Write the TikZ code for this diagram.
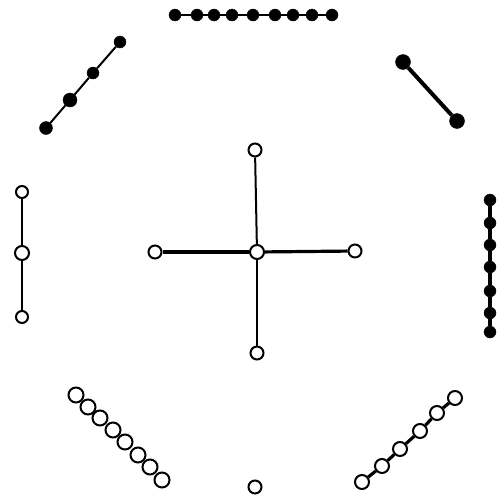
\documentclass[tikz,border=0pt]{standalone}
\begin{document}
\begin{tikzpicture}[x=1pt,y=-1pt,
  fdot/.style={circle,fill=black,draw=black,inner sep=0pt,minimum size=#1},
  fdot/.default=12pt,
  odot/.style={circle,fill=white,draw=black,line width=2pt,inner sep=0pt,minimum size=#1},
  odot/.default=13pt,
  link/.style={line width=2pt},
  thick link/.style={line width=3.2pt}]
\useasboundingbox (0,0) rectangle (504,501);
% top row
\foreach \i/\x in {1/175,2/197,3/214,4/232,5/253,6/275,7/293,8/312,9/332}
  \node[fdot=12pt] (t\i) at (\x,15) {};
\draw[link] (t1) -- (t2) -- (t3) -- (t4) -- (t5) -- (t6) -- (t7) -- (t8) -- (t9);
% top-left
\node[fdot=12pt] (a1) at (120,42) {};
\node[fdot=12pt] (a2) at (93,73) {};
\node[fdot=14pt] (a3) at (70,100) {};
\node[fdot=13pt] (a4) at (46,128) {};
\draw[link] (a1) -- (a2) -- (a3) -- (a4);
% top-right
\node[fdot=15pt] (b1) at (403,62) {};
\node[fdot=15pt] (b2) at (457,121) {};
\draw[line width=4pt] (b1) -- (b2);
% right vertical
\foreach \i/\y in {1/200,2/223,3/245,4/267,5/291,6/313,7/332}
  \node[fdot=12pt] (r\i) at (490,\y) {};
\draw[thick link] (r1) -- (r2) -- (r3) -- (r4) -- (r5) -- (r6) -- (r7);
% left vertical
\node[odot=12pt] (l1) at (22,192) {};
\node[odot=14pt] (l2) at (22,253) {};
\node[odot=12pt] (l3) at (22,317) {};
\draw[link] (l1) -- (l2) -- (l3);
% center cross
\node[odot=14pt] (c) at (257,252) {};
\node[odot] (cn) at (255,150) {};
\node[odot] (cw) at (155,252) {};
\node[odot] (ce) at (355,251) {};
\node[odot] (cs) at (257,353) {};
\draw[link] (c) -- (cn);
\draw[line width=3.5pt] (c) -- (cw);
\draw[thick link] (c) -- (ce);
\draw[link] (c) -- (cs);
% bottom-left chain
\foreach \i/\x/\y in {1/76/395,2/88/407,3/100/418,4/113/430,5/125/442,6/138/455,7/150/467,8/162/480}
  \node[odot=15pt,fill=none] (d\i) at (\x,\y) {};
% bottom-right chain
\node[odot=14pt] (e1) at (362,482) {};
\node[odot=14pt] (e2) at (382,466) {};
\node[odot=14pt] (e3) at (400,449) {};
\node[odot=14pt] (e4) at (420,431) {};
\node[odot=14pt] (e5) at (437,413) {};
\node[odot=14pt] (e6) at (455,398) {};
\draw[thick link] (e1) -- (e2) -- (e3) -- (e4) -- (e5) -- (e6);
% bottom single
\node[odot] (s) at (255,487) {};
\end{tikzpicture}
\end{document}
